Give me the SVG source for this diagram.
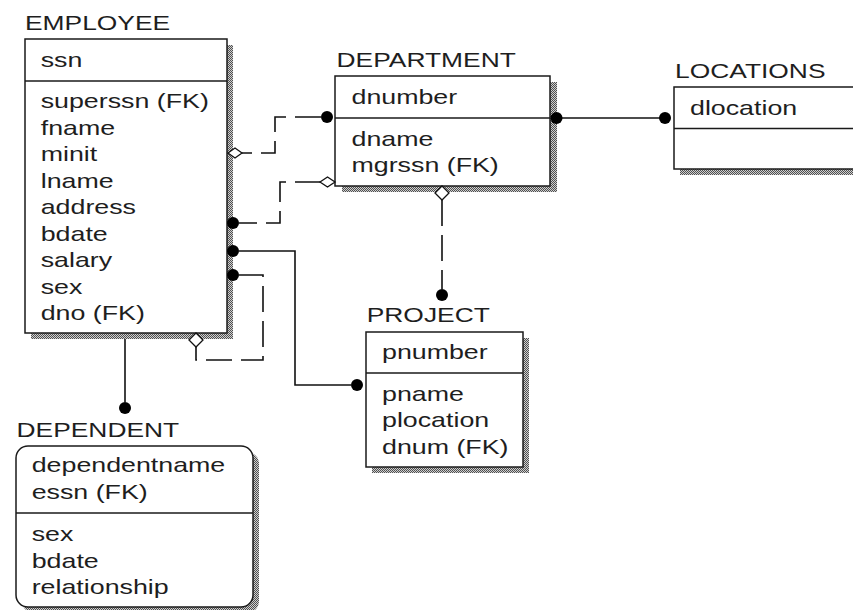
<svg xmlns="http://www.w3.org/2000/svg" width="853" height="610" viewBox="0 0 853 610">
<defs>
<pattern id="stip" width="2" height="2" patternUnits="userSpaceOnUse">
<rect width="2" height="2" fill="#cfcfcf"/>
<rect width="1" height="1" fill="#505050"/>
<rect x="1" y="1" width="1" height="1" fill="#505050"/>
</pattern>
</defs>
<style>
text{font-family:"Liberation Sans",Arial,sans-serif;font-size:20px;fill:#1e1e1e}
.box{fill:#fff;stroke:#1a1a1a;stroke-width:1.5}
.shadow{fill:url(#stip);stroke:none}
.sep{stroke:#1a1a1a;stroke-width:1.5}
.solid{fill:none;stroke:#111;stroke-width:1.6}
.dash{fill:none;stroke:#111;stroke-width:1.6;stroke-dasharray:26 9}
.dot{fill:#000}
.dia{fill:#fff;stroke:#111;stroke-width:1.3}
</style>
<rect width="853" height="610" fill="#fff"/>

<g id="employee">
<text transform="translate(25,30) scale(1.32,1)">EMPLOYEE</text>
<rect class="shadow" x="31" y="45" width="202" height="294"/>
<rect class="box" x="25" y="39" width="202" height="294"/>
<line class="sep" x1="25" y1="81" x2="227" y2="81"/>
<g transform="translate(40.7,0) scale(1.34,1)">
<text y="66.7">ssn</text>
<text y="108.5">superssn (FK)</text>
<text y="135">fname</text>
<text y="161.5">minit</text>
<text y="188">lname</text>
<text y="214.5">address</text>
<text y="241">bdate</text>
<text y="267.5">salary</text>
<text y="294">sex</text>
<text y="320.5">dno (FK)</text>
</g>
</g>

<g id="department">
<text transform="translate(336.5,67) scale(1.32,1)">DEPARTMENT</text>
<rect class="shadow" x="342" y="82" width="215" height="110"/>
<rect class="box" x="335" y="76" width="215" height="110"/>
<line class="sep" x1="335" y1="118" x2="550" y2="118"/>
<g transform="translate(351.5,0) scale(1.34,1)">
<text y="104">dnumber</text>
<text y="146">dname</text>
<text y="172.5">mgrssn (FK)</text>
</g>
</g>

<g id="locations">
<text transform="translate(675,77.5) scale(1.32,1)">LOCATIONS</text>
<rect class="shadow" x="680" y="93" width="200" height="82"/>
<rect class="box" x="674" y="87" width="200" height="82"/>
<line class="sep" x1="674" y1="128.5" x2="874" y2="128.5"/>
<g transform="translate(690,0) scale(1.34,1)">
<text y="115">dlocation</text>
</g>
</g>

<g id="project">
<text transform="translate(366.7,322) scale(1.32,1)">PROJECT</text>
<rect class="shadow" x="372" y="338" width="157" height="135"/>
<rect class="box" x="366" y="332" width="157" height="135"/>
<line class="sep" x1="366" y1="373" x2="523" y2="373"/>
<g transform="translate(382,0) scale(1.34,1)">
<text y="359">pnumber</text>
<text y="401.5">pname</text>
<text y="427.5">plocation</text>
<text y="454">dnum (FK)</text>
</g>
</g>

<g id="dependent">
<text transform="translate(16.5,437) scale(1.32,1)">DEPENDENT</text>
<rect class="shadow" x="22" y="452" width="237" height="161" rx="12"/>
<rect class="box" x="16" y="446" width="237" height="161" rx="12"/>
<line class="sep" x1="16" y1="513" x2="253" y2="513"/>
<g transform="translate(31.7,0) scale(1.34,1)">
<text y="472.5">dependentname</text>
<text y="499">essn (FK)</text>
<text y="541.5">sex</text>
<text y="568">bdate</text>
<text y="594">relationship</text>
</g>
</g>

<g id="connectors">
<path class="solid" d="M557 118 H665"/>
<circle class="dot" cx="556.5" cy="118" r="6"/>
<circle class="dot" cx="665" cy="118" r="6"/>

<path class="dash" d="M321 117 H275 V153 H242"/>
<circle class="dot" cx="327" cy="117" r="6"/>
<polygon class="dia" points="228,153 235,148 242,153 235,158"/>

<path class="dash" d="M321 182 H280 V223 H239"/>
<polygon class="dia" points="320,182 327.5,177 335,182 327.5,187"/>
<circle class="dot" cx="233" cy="223" r="6"/>

<path class="solid" d="M239 251 H295 V385 H351"/>
<circle class="dot" cx="233" cy="251" r="6"/>
<circle class="dot" cx="357" cy="385" r="6"/>

<path class="dash" d="M239 275 H263 V360 H196 V347"/>
<circle class="dot" cx="233" cy="275" r="6"/>
<polygon class="dia" points="189,340 196,333 203,340 196,347"/>

<path class="dash" d="M442 200 V289"/>
<polygon class="dia" points="435,193 442,186 449,193 442,200"/>
<circle class="dot" cx="442" cy="295" r="6"/>

<path class="solid" d="M125 339 V402"/>
<circle class="dot" cx="125" cy="408" r="6"/>
</g>
</svg>
